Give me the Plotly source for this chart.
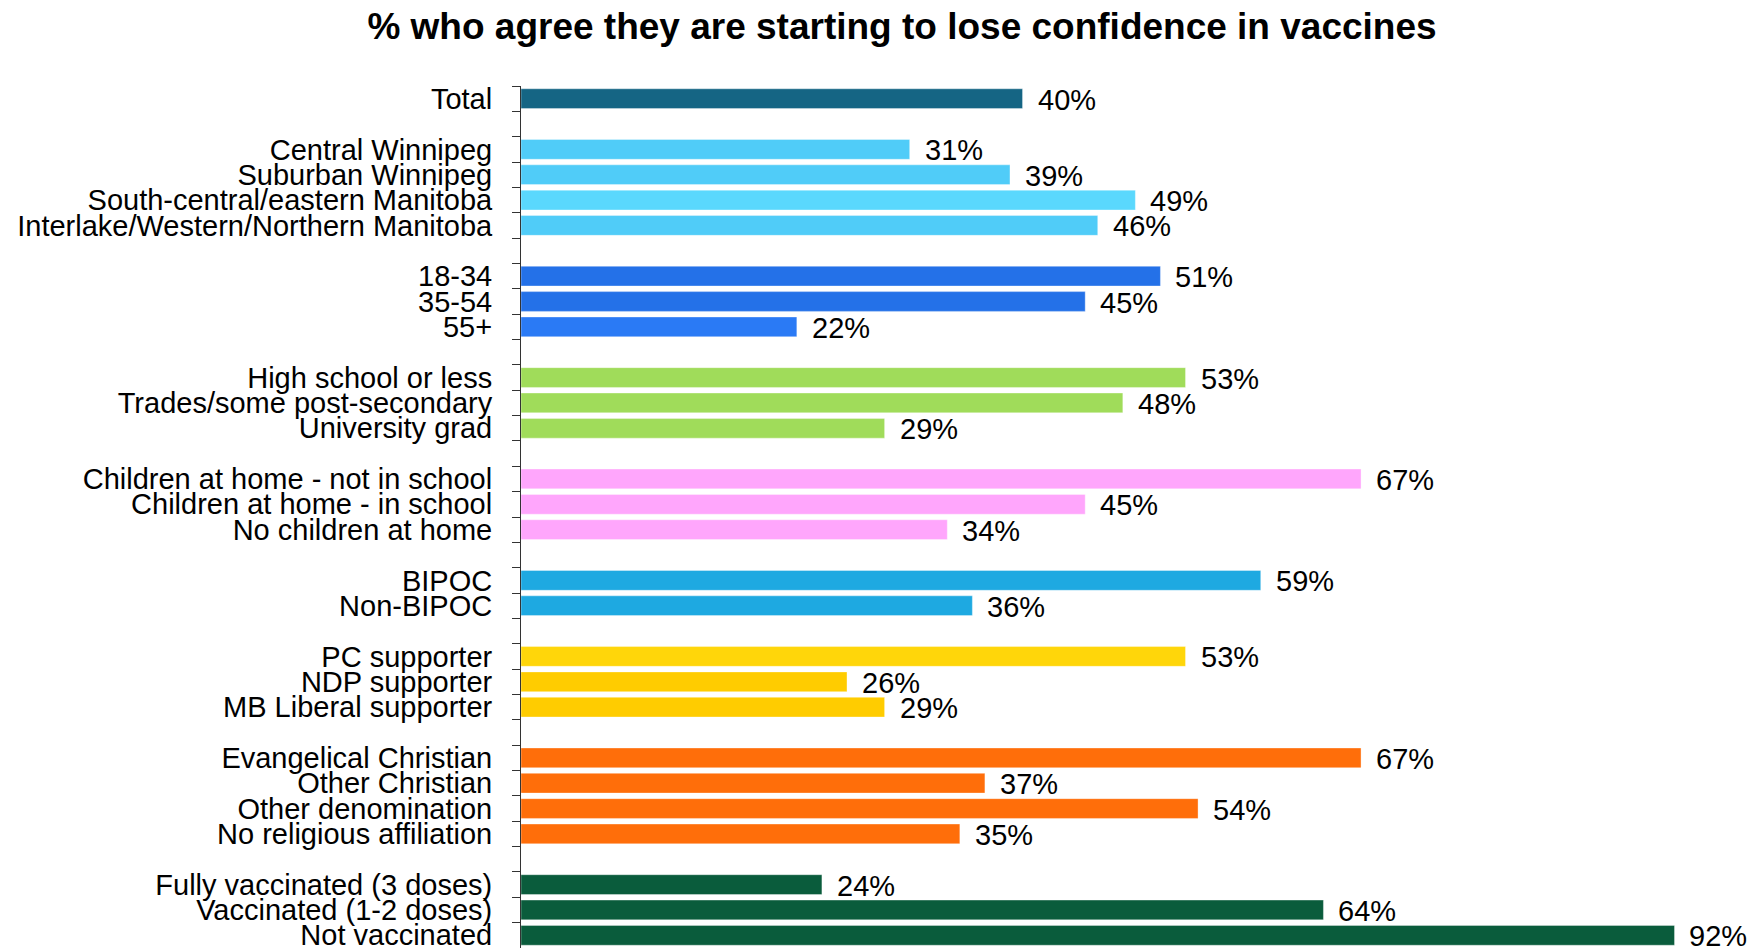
import plotly.graph_objects as go

categories = [
    "Total", " ",
    "Central Winnipeg", "Suburban Winnipeg", "South-central/eastern Manitoba",
    "Interlake/Western/Northern Manitoba", "  ",
    "18-34", "35-54", "55+", "   ",
    "High school or less", "Trades/some post-secondary", "University grad", "    ",
    "Children at home - not in school", "Children at home - in school", "No children at home", "     ",
    "BIPOC", "Non-BIPOC", "      ",
    "PC supporter", "NDP supporter", "MB Liberal supporter", "       ",
    "Evangelical Christian", "Other Christian", "Other denomination", "No religious affiliation", "        ",
    "Fully vaccinated (3 doses)", "Vaccinated (1-2 doses)", "Not vaccinated",
]
values = [
    40, None,
    31, 39, 49, 46, None,
    51, 45, 22, None,
    53, 48, 29, None,
    67, 45, 34, None,
    59, 36, None,
    53, 26, 29, None,
    67, 37, 54, 35, None,
    24, 64, 92,
]
colors = [
    "#156584", "#ffffff",
    "#50CCF8", "#50CCF8", "#5AD8FD", "#50CCF8", "#ffffff",
    "#2471E8", "#2471E8", "#2A7AF5", "#ffffff",
    "#A0DC5A", "#A0DC5A", "#A0DC5A", "#ffffff",
    "#FFA6FC", "#FFA6FC", "#FFA6FC", "#ffffff",
    "#1EA9E1", "#1EA9E1", "#ffffff",
    "#FFD60A", "#FFCC00", "#FFCC00", "#ffffff",
    "#FF6E0A", "#FF6E0A", "#FF6E0A", "#FF6E0A", "#ffffff",
    "#0A5C3C", "#0A5C3C", "#0A5C3C",
]
title = "% who agree they are starting to lose confidence in vaccines"

W, H = 1753, 943  # page body has an 8px margin

fig = go.Figure()
fig.add_trace(go.Bar(
    x=values, y=categories, orientation="h",
    marker=dict(color=colors, line=dict(color="rgba(255,255,255,0.35)", width=1)),
    width=0.78, hoverinfo="x+y", cliponaxis=False,
))

for c, v in zip(categories, values):
    if v is None:
        continue
    fig.add_annotation(
        x=v, y=c, text=f"{v}%", showarrow=False, xanchor="left", yanchor="middle",
        xshift=13, yshift=-1, font=dict(family="Liberation Sans, Arial", size=29, color="#000000"),
    )

fig.update_layout(
    width=W, height=H,
    margin=dict(l=513, r=0, t=78, b=0, pad=0),
    paper_bgcolor="white", plot_bgcolor="white",
    showlegend=False, bargap=0.22,
    title=dict(text=f"<b>{title}</b>", x=894 / W, xanchor="center", y=1 - 18 / H, yanchor="middle",
               font=dict(family="Liberation Sans, Arial", size=37, color="#000000")),
    font=dict(family="Liberation Sans, Arial", color="#000000"),
)
fig.update_xaxes(range=[0, 98.9], showgrid=False, zeroline=False, showticklabels=False,
                 showline=False, ticks="")
fig.update_yaxes(
    type="category", categoryorder="array", categoryarray=categories,
    autorange=False, range=[len(categories) - 0.5, -0.5],
    tickmode="linear", tick0=0, dtick=1,
    showline=True, linecolor="#333333", linewidth=1,
    ticks="outside", tickson="boundaries", ticklen=8, tickcolor="#333333", tickwidth=1,
    showgrid=False, zeroline=False,
    tickfont=dict(family="Liberation Sans, Arial", size=29, color="#000000"),
    ticklabelstandoff=22,
)

fig.write_html("out.html")
